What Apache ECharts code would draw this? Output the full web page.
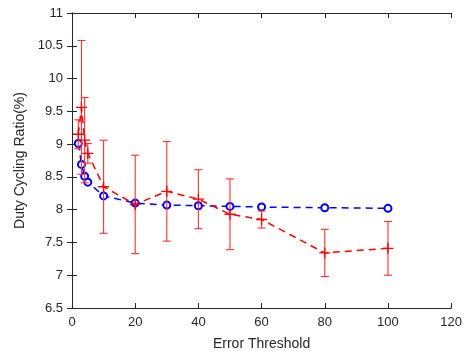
<!DOCTYPE html>
<html><head><meta charset="utf-8">
<script src="https://cdn.jsdelivr.net/npm/echarts@6/dist/echarts.min.js"></script>
<style>html,body{margin:0;padding:0;background:#fff}#c{width:465px;height:358px}</style>
</head><body><div id="c"></div>
<script>
var thresholds = [2, 3, 4, 5, 10, 20, 30, 40, 50, 60, 80, 100];
var blueRatio = [9.01, 8.69, 8.51, 8.42, 8.21, 8.10, 8.07, 8.06, 8.05, 8.04, 8.03, 8.02];
var redRatio = [9.15, 9.56, 9.06, 8.86, 8.35, 8.08, 8.28, 8.16, 7.93, 7.85, 7.34, 7.41];
var redErr = [0.22, 1.02, 0.65, 0.15, 0.71, 0.75, 0.76, 0.45, 0.54, 0.13, 0.36, 0.41];
var xTicks = [0, 20, 40, 60, 80, 100, 120];
var yTicks = [6.5, 7, 7.5, 8, 8.5, 9, 9.5, 10, 10.5, 11];

var font = 'Liberation Sans, Arial, sans-serif';
var blueData = thresholds.map(function (x, i) { return [x, blueRatio[i]]; });
var redData = thresholds.map(function (x, i) { return [x, redRatio[i]]; });
var errData = thresholds.map(function (x, i) { return [x, redRatio[i] - redErr[i], redRatio[i] + redErr[i]]; });

var axisLine = { show: true, lineStyle: { color: '#262626', width: 1 } };
var tick = { show: true, inside: true, length: 5, lineStyle: { color: '#262626', width: 1 } };
var lbl = { color: '#262626', fontFamily: font, fontSize: 13 };

var chart = echarts.init(document.getElementById('c'), null, { renderer: 'canvas' });
chart.setOption({
  animation: false,
  backgroundColor: '#fff',
  grid: { left: 72, right: 12, top: 13, bottom: 50 },
  xAxis: [{
    type: 'value', min: xTicks[0], max: xTicks[xTicks.length - 1], interval: 20,
    axisLine: axisLine, axisTick: tick, splitLine: { show: false },
    axisLabel: Object.assign({ margin: 8 }, lbl),
    name: 'Error Threshold', nameLocation: 'middle', nameGap: 29,
    nameTextStyle: { color: '#262626', fontFamily: font, fontSize: 14 }
  }, {
    type: 'value', position: 'top', min: xTicks[0], max: xTicks[xTicks.length - 1], interval: 20,
    axisLine: axisLine, axisTick: tick, splitLine: { show: false }, axisLabel: { show: false }
  }],
  yAxis: [{
    type: 'value', min: yTicks[0], max: yTicks[yTicks.length - 1], interval: 0.5,
    axisLine: axisLine, axisTick: tick, splitLine: { show: false },
    axisLabel: Object.assign({ margin: 9 }, lbl),
    name: 'Duty Cycling Ratio(%)', nameLocation: 'middle', nameGap: 42, nameRotate: 90,
    nameTextStyle: { color: '#262626', fontFamily: font, fontSize: 14 }
  }, {
    type: 'value', position: 'right', min: yTicks[0], max: yTicks[yTicks.length - 1], interval: 0.5,
    axisLine: axisLine, axisTick: tick, splitLine: { show: false }, axisLabel: { show: false }
  }],
  series: [{
    type: 'line', data: blueData, z: 3, showAllSymbol: true,
    lineStyle: { color: '#0000ff', width: 1.5, type: [7, 5] },
    symbol: 'emptyCircle', symbolSize: 7,
    itemStyle: { color: '#0000ff', borderColor: '#0000ff', borderWidth: 1.5 }
  }, {
    type: 'custom', data: errData, z: 4,
    renderItem: function (params, api) {
      var x = api.value(0);
      var lo = api.coord([x, api.value(1)]);
      var hi = api.coord([x, api.value(2)]);
      var w = 4;
      var st = { stroke: '#ff3333', lineWidth: 1.1 };
      return { type: 'group', children: [
        { type: 'line', shape: { x1: lo[0], y1: lo[1], x2: hi[0], y2: hi[1] }, style: st },
        { type: 'line', shape: { x1: lo[0] - w, y1: lo[1], x2: lo[0] + w, y2: lo[1] }, style: st },
        { type: 'line', shape: { x1: hi[0] - w, y1: hi[1], x2: hi[0] + w, y2: hi[1] }, style: st }
      ] };
    }
  }, {
    type: 'line', data: redData, z: 5, showAllSymbol: true,
    lineStyle: { color: '#ff0000', width: 1.5, type: [7, 5] },
    symbol: 'path://M0,4.4H10V5.6H0Z M4.4,0H5.6V10H4.4Z', symbolSize: 11,
    itemStyle: { color: '#ff0000' }
  }]
});
</script></body></html>
